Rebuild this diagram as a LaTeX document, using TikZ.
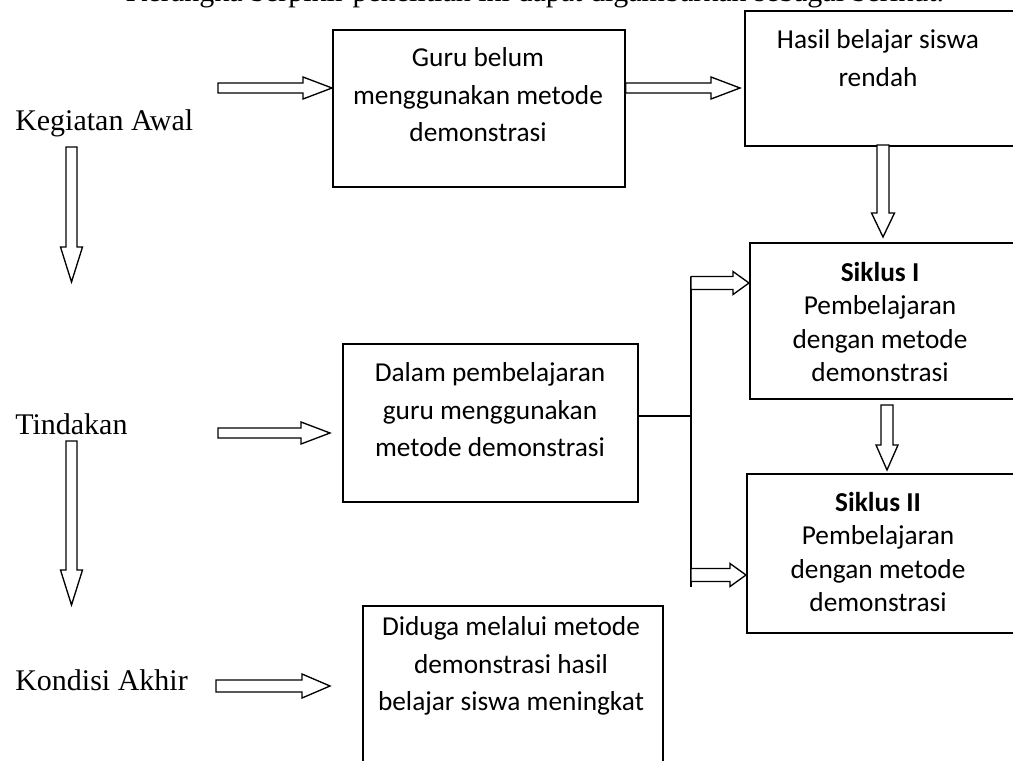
\documentclass[tikz,border=0pt]{standalone}
\usepackage{fontspec}
\setmainfont{Liberation Serif}
\newfontfamily\calibri{Carlito}
\usetikzlibrary{calc}
\tikzset{
  box/.style={draw, line width=1.2pt, inner sep=0pt, anchor=north west},
  ctext/.style={font=\calibri\fontsize{20.5}{28.1}\selectfont, align=center, inner sep=0pt},
  ctextb/.style={font=\calibri\fontsize{20.5}{25}\selectfont, align=center, inner sep=0pt},
  ltext/.style={font=\fontsize{22.5}{27}\selectfont, anchor=base west, inner sep=0pt},
  barrow/.style={draw, line width=1pt, fill=white, line join=miter},
  link/.style={draw, line width=1.2pt}
}
\newcommand{\hbarrow}[5]{%
  \draw[barrow] ($(#1)+(0,-#3)$) -- ($(#2)+(-#5,-#3)$) -- ($(#2)+(-#5,-#4)$) -- (#2)
    -- ($(#2)+(-#5,#4)$) -- ($(#2)+(-#5,#3)$) -- ($(#1)+(0,#3)$) -- cycle;}
\newcommand{\vbarrow}[5]{%
  \draw[barrow] ($(#1)+(-#3,0)$) -- ($(#2)+(-#3,-#5)$) -- ($(#2)+(-#4,-#5)$) -- (#2)
    -- ($(#2)+(#4,-#5)$) -- ($(#2)+(#3,-#5)$) -- ($(#1)+(#3,0)$) -- cycle;}
\begin{document}
\begin{tikzpicture}[x=0.75pt,y=-0.75pt]
\useasboundingbox (0,0) rectangle (1013,760);

% title (cut off at top, as in the reference)
\node[font=\fontsize{22.5}{27}\selectfont, anchor=base, inner sep=0pt] (title) at (535,1.5)
  {Kerangka berpikir penelitian ini dapat digambarkan sebagai berikut.};

% boxes
\node[box, minimum width=292*0.75pt, minimum height=157*0.75pt] (b1) at (332,29) {};
\node[box, minimum width=276*0.75pt, minimum height=135*0.75pt] (b2) at (744,10) {};
\node[box, minimum width=271*0.75pt, minimum height=156*0.75pt] (b3) at (749,242) {};
\node[box, minimum width=274*0.75pt, minimum height=159*0.75pt] (b4) at (746,473) {};
\node[box, minimum width=295*0.75pt, minimum height=158*0.75pt] (b5) at (342,343) {};
\node[box, minimum width=300*0.75pt, minimum height=175*0.75pt] (b6) at (362,605) {};

% box texts
\node[ctext] (t1) at (478,95) {Guru belum\\menggunakan metode\\demonstrasi};
\node[ctext] (t2) at (878,58) {Hasil belajar siswa\\rendah};
\node[ctextb] (t3) at (880,322) {\textbf{Siklus I}\\Pembelajaran\\dengan metode\\demonstrasi};
\node[ctextb] (t4) at (878,552) {\textbf{Siklus II}\\Pembelajaran\\dengan metode\\demonstrasi};
\node[ctext] (t5) at (490,410) {Dalam pembelajaran\\guru menggunakan\\metode demonstrasi};
\node[ctext] (t6) at (511,666) {Diduga melalui metode\\demonstrasi hasil\\belajar siswa meningkat};

% left labels
\node[ltext] (l1) at (15,130) {Kegiatan Awal};
\node[ltext] (l2) at (15,434) {Tindakan};
\node[ltext] (l3) at (15,690) {Kondisi Akhir};

% arrow end points
\coordinate (a1s) at (218,88);
\coordinate (a1e) at (b1.west |- a1s);
\coordinate (a2s) at (b1.east |- a1s);
\coordinate (a2e) at (740,88);
\coordinate (a3s) at (71.5,147);
\coordinate (a3e) at (71.5,282);
\coordinate (a4s) at (883,145);
\coordinate (a4e) at (883,237);
\coordinate (a5s) at (218,433);
\coordinate (a5e) at (330,433);
\coordinate (a6s) at (71.5,441);
\coordinate (a6e) at (71.5,605);
\coordinate (a7s) at (887,405);
\coordinate (a7e) at (887,470);
\coordinate (a10s) at (216,686);
\coordinate (a10e) at (330,686);

% branch
\coordinate (j) at (691,416);
\coordinate (jt) at (691,277);
\coordinate (jb) at (691,587);
\coordinate (a8s) at (691,283);
\coordinate (a8e) at (b3.west |- a8s);
\coordinate (a9s) at (691,575);
\coordinate (a9e) at (b4.west |- a9s);
\draw[link] (b5.east |- j) -- (j);
\draw[link] (jt) -- (jb);

\hbarrow{a1s}{a1e}{5}{11}{29}
\hbarrow{a2s}{a2e}{5}{11}{29}
\vbarrow{a3s}{a3e}{5.5}{11}{35}
\vbarrow{a4s}{a4e}{6}{11.5}{24}
\hbarrow{a5s}{a5e}{5}{11}{29}
\vbarrow{a6s}{a6e}{5.5}{11}{35}
\vbarrow{a7s}{a7e}{6}{11}{25}
\hbarrow{a8s}{a8e}{6.5}{11.5}{16}
\hbarrow{a9s}{a9e}{6.5}{11.5}{16}
\hbarrow{a10s}{a10e}{6}{12}{28}
\end{tikzpicture}
\end{document}
